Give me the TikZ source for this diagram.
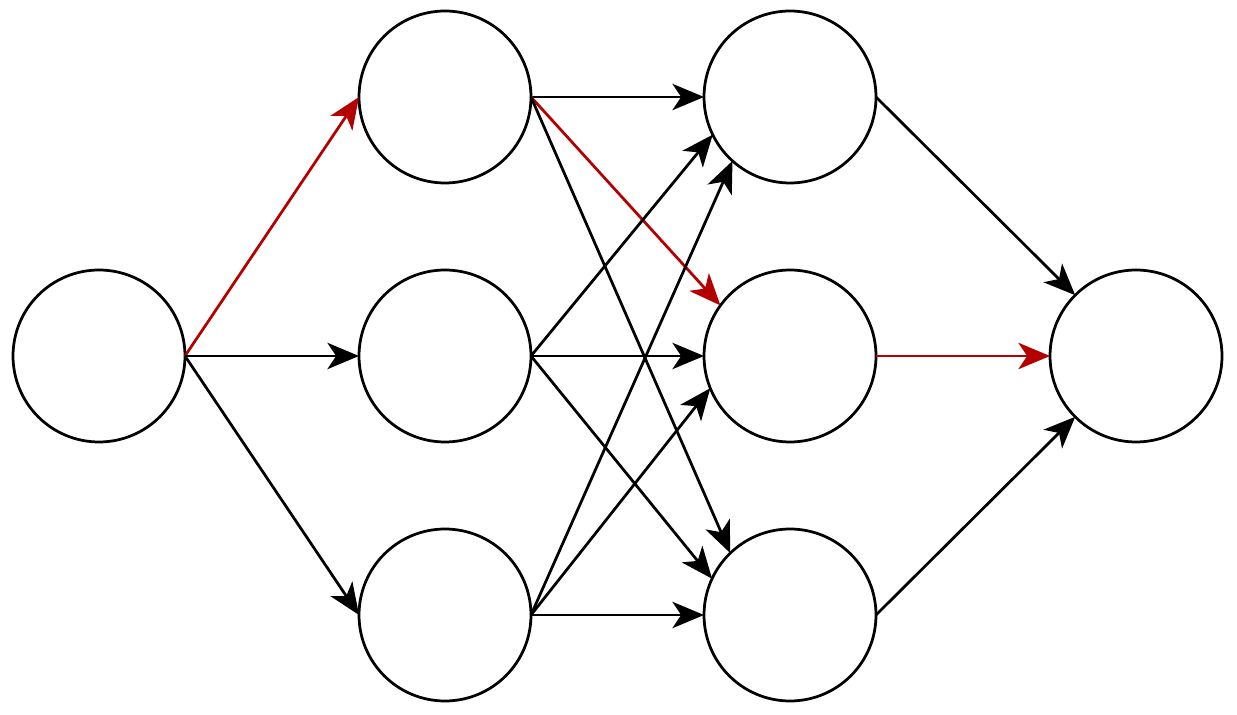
\documentclass[tikz,border=0pt]{standalone}
\usetikzlibrary{arrows.meta}
\begin{document}
\begin{tikzpicture}[x=0.02cm,y=-0.02cm,
  neuron/.style={circle,draw,line width=0.055cm,minimum size=3.44cm,inner sep=0pt,outer sep=0pt},
  conn/.style={line width=0.055cm,-{Stealth[length=18pt,width=15pt,inset=5pt]}},
  hot/.style={conn,draw={rgb,255:red,180;green,0;blue,0}}]
\useasboundingbox (0,0) rectangle (1237,715);
\node[neuron] (A) at (99,356) {};
\node[neuron] (B1) at (445,97) {};
\node[neuron] (B2) at (445,356) {};
\node[neuron] (B3) at (445,615) {};
\node[neuron] (C1) at (790,97) {};
\node[neuron] (C2) at (790,356) {};
\node[neuron] (C3) at (790,615) {};
\node[neuron] (D) at (1136,356) {};
\draw[hot] (A.east) -- (B1.west);
\draw[conn] (A.east) -- (B2.west);
\draw[conn] (A.east) -- (B3.west);
\draw[conn] (B1.east) -- (C1.west);
\draw[hot] (B1.east) -- (C2.144);
\draw[conn] (B1.east) -- (C3.134);
\draw[conn] (B2.east) -- (C1.206);
\draw[conn] (B2.east) -- (C2.west);
\draw[conn] (B2.east) -- (C3.155);
\draw[conn] (B3.east) -- (C1.228);
\draw[conn] (B3.east) -- (C2.202);
\draw[conn] (B3.east) -- (C3.west);
\draw[conn] (C1.east) -- (D.135);
\draw[hot] (C2.east) -- (D.west);
\draw[conn] (C3.east) -- (D.225);
\end{tikzpicture}
\end{document}
